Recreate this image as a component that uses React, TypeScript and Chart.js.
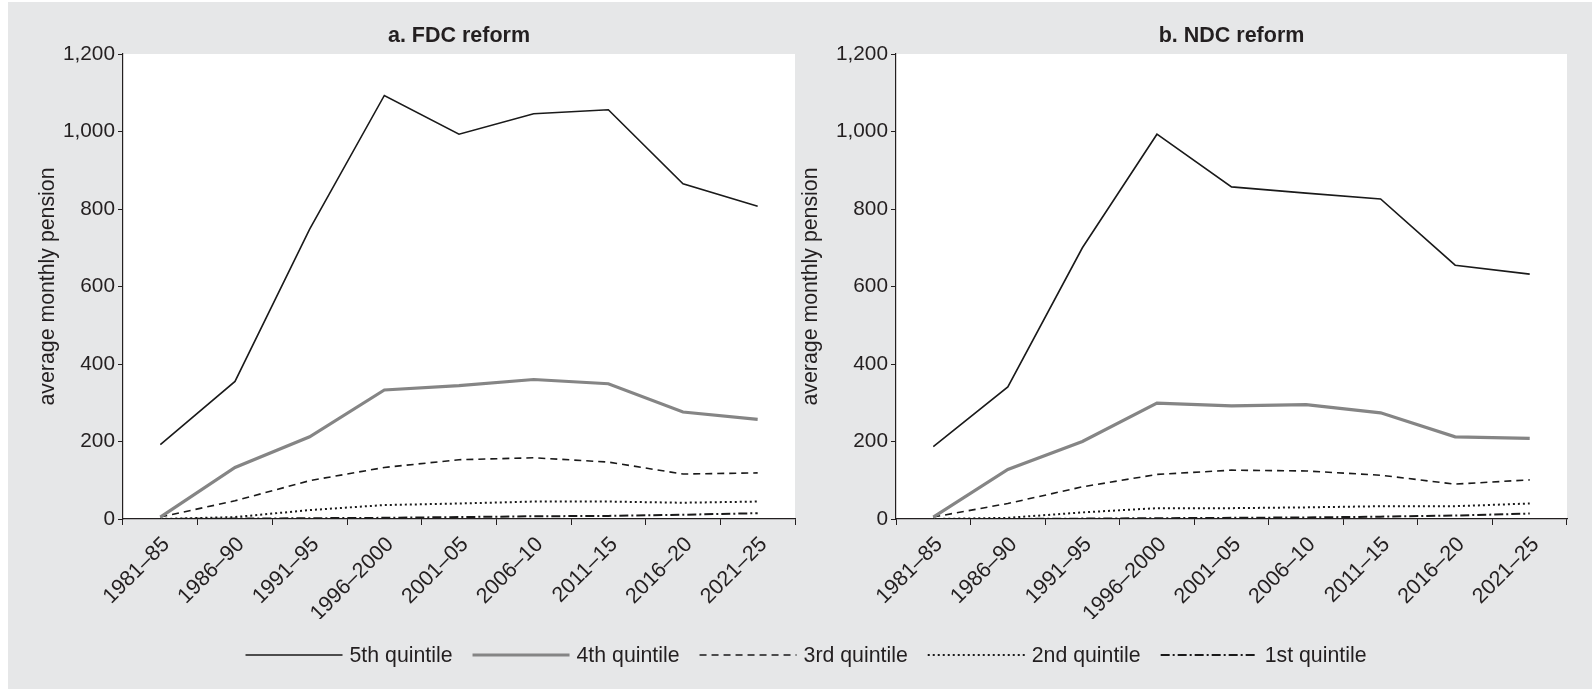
import React, { useEffect, useRef } from "react";
import { Chart, registerables } from "chart.js";

Chart.register(...registerables);

const categories = ["1981–85", "1986–90", "1991–95", "1996–2000", "2001–05", "2006–10", "2011–15", "2016–20", "2021–25"];

const fdcQ5 = [192, 355, 748, 1093, 993, 1046, 1056, 865, 807];
const fdcQ4 = [5, 133, 212, 333, 344, 360, 349, 276, 257];
const fdcQ3 = [5, 47, 99, 133, 153, 158, 147, 116, 119];
const fdcQ2 = [0, 5, 23, 36, 40, 45, 45, 42, 45];
const fdcQ1 = [0, 1, 2, 3, 5, 7, 8, 11, 15];

const ndcQ5 = [187, 341, 700, 993, 857, 841, 826, 655, 632];
const ndcQ4 = [5, 128, 200, 299, 292, 295, 274, 212, 208];
const ndcQ3 = [5, 40, 83, 115, 126, 124, 113, 90, 101];
const ndcQ2 = [0, 3, 17, 28, 28, 30, 33, 33, 40];
const ndcQ1 = [0, 0, 1, 2, 3, 4, 6, 9, 14];

const seriesLabels = ["5th quintile", "4th quintile", "3rd quintile", "2nd quintile", "1st quintile"];
const yMin = 0;
const yMax = 1200;
const yStep = 200;

const INK = "#231f20";
const BG = "#e6e7e8";
const FONT = "'Liberation Sans', Arial, Helvetica, sans-serif";

const seriesStyles = [
  { borderColor: "#1a1a1a", borderWidth: 1.6, borderDash: [] as number[] },
  { borderColor: "#858585", borderWidth: 3.2, borderDash: [] as number[] },
  { borderColor: "#1a1a1a", borderWidth: 1.6, borderDash: [7, 5] },
  { borderColor: "#1a1a1a", borderWidth: 2, borderDash: [2, 3] },
  { borderColor: "#1a1a1a", borderWidth: 2, borderDash: [9, 3, 2, 3] },
];

function buildDatasets(series: number[][]) {
  return series.map((d, i) => ({
    label: seriesLabels[i],
    data: d,
    borderColor: seriesStyles[i].borderColor,
    backgroundColor: seriesStyles[i].borderColor,
    borderWidth: seriesStyles[i].borderWidth,
    borderDash: seriesStyles[i].borderDash,
    pointRadius: 0,
    tension: 0,
    fill: false,
  }));
}

const whiteArea = {
  id: "whiteArea",
  beforeDraw(chart: any) {
    const a = chart.chartArea;
    if (!a) return;
    const ctx = chart.ctx;
    ctx.save();
    ctx.fillStyle = "#ffffff";
    ctx.fillRect(a.left, a.top, a.right - a.left, a.bottom - a.top);
    ctx.restore();
  },
};

const customLegend = {
  id: "customLegend",
  afterDraw(chart: any) {
    const ctx = chart.ctx;
    const items = chart.data.datasets;
    const lineLen = 97;
    const gapText = 7;
    const gapItem = 20;
    const centerX = 798;
    const y = 35;
    ctx.save();
    ctx.font = `21.3px ${FONT}`;
    const widths = items.map((d: any) => ctx.measureText(d.label).width);
    const total = items.length * (lineLen + gapText) + widths.reduce((a: number, b: number) => a + b, 0) + (items.length - 1) * gapItem;
    let x = centerX - total / 2;
    items.forEach((d: any, i: number) => {
      ctx.beginPath();
      ctx.setLineDash(d.borderDash || []);
      ctx.lineWidth = d.borderWidth;
      ctx.strokeStyle = d.borderColor;
      ctx.lineCap = "butt";
      ctx.moveTo(x, y);
      ctx.lineTo(x + lineLen, y);
      ctx.stroke();
      x += lineLen + gapText;
      ctx.setLineDash([]);
      ctx.fillStyle = INK;
      ctx.textBaseline = "middle";
      ctx.textAlign = "left";
      ctx.fillText(d.label, x, y + 1);
      x += widths[i] + gapItem;
    });
    ctx.restore();
  },
};

function panelConfig(title: string, series: number[][], yWidth: number, yTitlePad: number, padRight: number) {
  return {
    type: "line" as const,
    data: { labels: categories, datasets: buildDatasets(series) },
    plugins: [whiteArea],
    options: {
      animation: false as const,
      responsive: false,
      layout: { padding: { left: 0, right: padRight, top: 0, bottom: 0 } },
      plugins: {
        legend: { display: false },
        tooltip: { enabled: false },
        title: {
          display: true,
          text: title,
          fullSize: false,
          color: INK,
          font: { family: FONT, size: 21.5, weight: "bold" as const },
          padding: { top: 21, bottom: 5.2 },
        },
      },
      scales: {
        x: {
          type: "category" as const,
          offset: true,
          grid: { display: true, offset: true, drawOnChartArea: false, drawTicks: true, tickLength: 6, color: INK, lineWidth: 1 },
          border: { display: true, color: INK, width: 1.2 },
          ticks: {
            color: INK,
            font: { family: FONT, size: 21.5 },
            minRotation: 45,
            maxRotation: 45,
            padding: 7,
            labelOffset: 6,
            autoSkip: false,
          },
          afterFit: (s: any) => { s.height = 100; },
        },
        y: {
          min: yMin,
          max: yMax,
          grid: { display: true, drawOnChartArea: false, drawTicks: true, tickLength: 5, color: INK, lineWidth: 1 },
          border: { display: true, color: INK, width: 1.2 },
          ticks: {
            stepSize: yStep,
            color: INK,
            padding: 3,
            font: { family: FONT, size: 20.8 },
            callback: (v: any) => Number(v).toLocaleString("en-US"),
          },
          title: {
            display: true,
            text: "average monthly pension",
            color: INK,
            font: { family: FONT, size: 21.3 },
            padding: { top: yTitlePad, bottom: 0 },
          },
          afterFit: (s: any) => { s.width = yWidth; },
        },
      },
    },
  };
}

function legendConfig() {
  return {
    type: "line" as const,
    data: { labels: [], datasets: buildDatasets([[], [], [], [], []]) },
    plugins: [customLegend],
    options: {
      animation: false as const,
      responsive: false,
      scales: { x: { display: false }, y: { display: false } },
      plugins: {
        tooltip: { enabled: false },
        legend: { display: false },
      },
    },
  };
}

export default function App() {
  const aRef = useRef<HTMLCanvasElement>(null);
  const bRef = useRef<HTMLCanvasElement>(null);
  const lRef = useRef<HTMLCanvasElement>(null);

  useEffect(() => {
    const ca = new Chart(aRef.current as HTMLCanvasElement, panelConfig("a. FDC reform", [fdcQ5, fdcQ4, fdcQ3, fdcQ2, fdcQ1], 115, 27, 3) as any);
    const cb = new Chart(bRef.current as HTMLCanvasElement, panelConfig("b. NDC reform", [ndcQ5, ndcQ4, ndcQ3, ndcQ2, ndcQ1], 98, 0, 25) as any);
    const cl = new Chart(lRef.current as HTMLCanvasElement, legendConfig() as any);
    return () => {
      ca.destroy();
      cb.destroy();
      cl.destroy();
    };
  }, []);

  return (
    <div style={{ position: "absolute", left: 8, top: 2, width: 1584, height: 687, background: BG, overflow: "hidden" }}>
      <canvas ref={aRef} width={790} height={617} style={{ position: "absolute", left: 0, top: 0, width: 790, height: 617 }} />
      <canvas ref={bRef} width={794} height={617} style={{ position: "absolute", left: 790, top: 0, width: 794, height: 617 }} />
      <canvas ref={lRef} width={1584} height={69} style={{ position: "absolute", left: 0, top: 618, width: 1584, height: 69 }} />
    </div>
  );
}
